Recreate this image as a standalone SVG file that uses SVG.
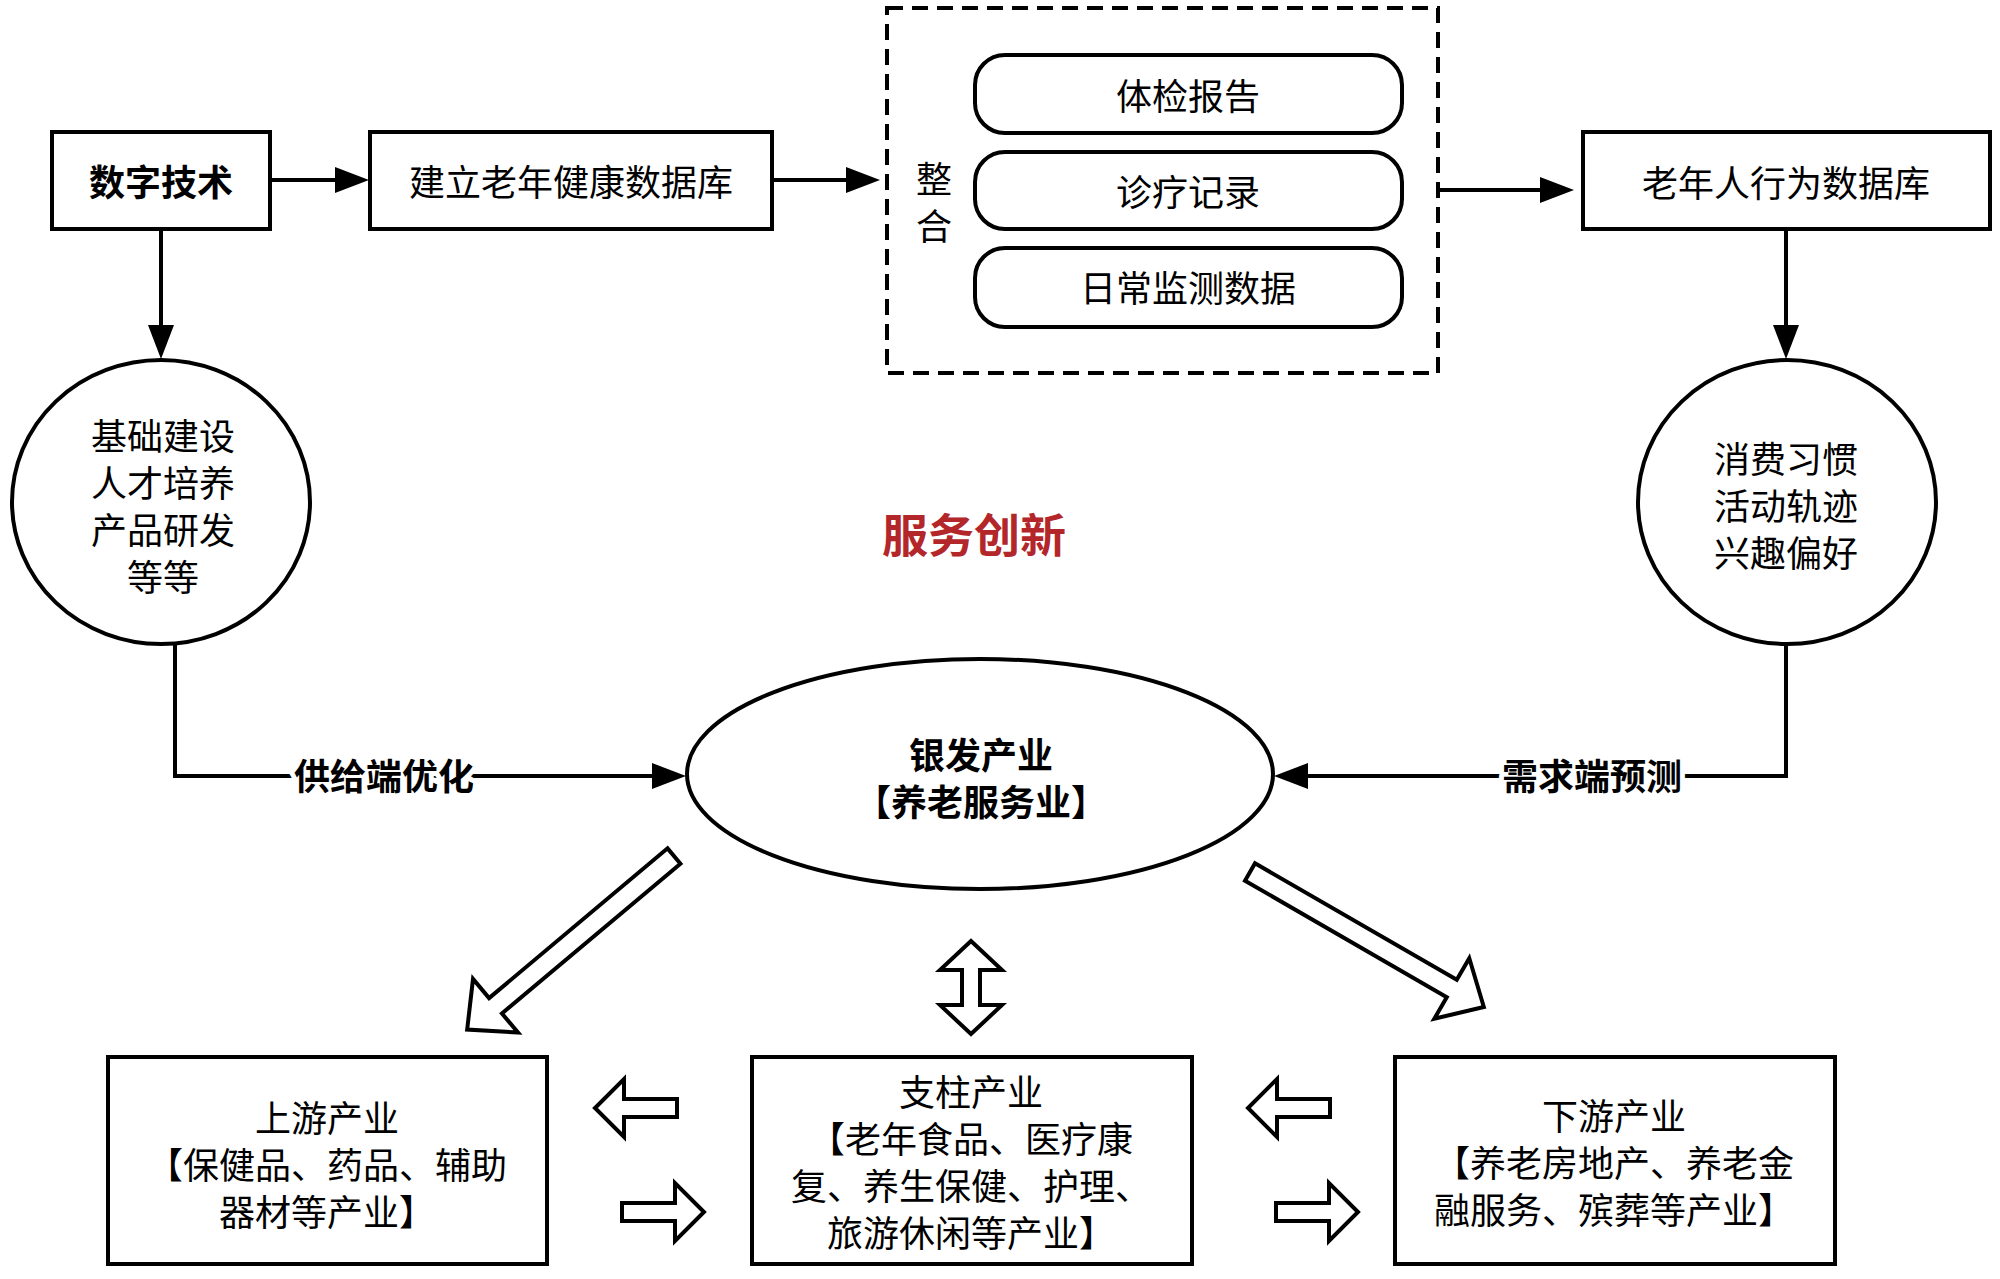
<svg xmlns="http://www.w3.org/2000/svg" width="2000" height="1279" viewBox="0 0 2000 1279">
<style>
text{font-family:"Noto Sans CJK SC","Noto Sans",sans-serif;font-size:36px;fill:#000;text-anchor:middle}
.b{font-weight:bold}
.box{fill:#fff;stroke:#000;stroke-width:4}
.con{fill:none;stroke:#000;stroke-width:4}
.blk{fill:#fff;stroke:#000;stroke-width:4;stroke-linejoin:miter}
.lbl{font-weight:bold;stroke:#fff;stroke-width:10;paint-order:stroke;stroke-linejoin:round}
</style>
<defs>
<marker id="ah" markerUnits="userSpaceOnUse" markerWidth="36" markerHeight="28" refX="0" refY="14" orient="auto">
<path d="M0,1 L34,14 L0,27 Z" fill="#000"/>
</marker>
<path id="diag" d="M0,-10 L233,-10 L233,-35 L270,0 L233,35 L233,10 L0,10 Z"/>
<path id="small" d="M0,-9 H53 V-29 L82,0 L53,29 V9 H0 Z"/>
</defs>
<rect width="2000" height="1279" fill="#fff"/>

<g id="connectors">
<path class="con" d="M271,180 H335" marker-end="url(#ah)"/>
<path class="con" d="M772,180 H846" marker-end="url(#ah)"/>
<path class="con" d="M1438,190 H1540" marker-end="url(#ah)"/>
<path class="con" d="M161,229 V325" marker-end="url(#ah)"/>
<path class="con" d="M1786,229 V325" marker-end="url(#ah)"/>
<path class="con" d="M175,643 V776 H652" marker-end="url(#ah)"/>
<path class="con" d="M1786,643 V776 H1308" marker-end="url(#ah)"/>
<text class="lbl" x="384" y="790">供给端优化</text>
<text class="lbl" x="1592" y="790">需求端预测</text>
<use href="#diag" class="blk" transform="translate(674,856) rotate(140)"/>
<use href="#diag" class="blk" transform="translate(1250,872) rotate(30)"/>
<path class="blk" d="M971,941 L1002,970 L980,970 L980,1005 L1002,1005 L971,1034 L940,1005 L962,1005 L962,970 L940,970 Z"/>
<use href="#small" class="blk" transform="translate(677,1108) rotate(180)"/>
<use href="#small" class="blk" transform="translate(622,1212)"/>
<use href="#small" class="blk" transform="translate(1330,1108) rotate(180)"/>
<use href="#small" class="blk" transform="translate(1276,1212)"/>
</g>

<g id="n-digital">
<rect class="box" x="52" y="132" width="218" height="97"/>
<text class="b" x="161" y="196">数字技术</text>
</g>
<g id="n-healthdb">
<rect class="box" x="370" y="132" width="402" height="97"/>
<text x="571" y="196">建立老年健康数据库</text>
</g>
<g id="n-integrate">
<rect x="887" y="8" width="551" height="365" fill="none" stroke="#000" stroke-width="4" stroke-dasharray="16 9"/>
<text x="934" y="193">整</text>
<text x="934" y="240">合</text>
</g>
<g id="n-report">
<rect class="box" x="975" y="55" width="427" height="78" rx="30" ry="30"/>
<text x="1188" y="110">体检报告</text>
</g>
<g id="n-record">
<rect class="box" x="975" y="152" width="427" height="77" rx="30" ry="30"/>
<text x="1188" y="206">诊疗记录</text>
</g>
<g id="n-monitor">
<rect class="box" x="975" y="248" width="427" height="79" rx="30" ry="30"/>
<text x="1188" y="302">日常监测数据</text>
</g>
<g id="n-behaviordb">
<rect class="box" x="1583" y="132" width="407" height="97"/>
<text x="1786" y="197">老年人行为数据库</text>
</g>
<g id="n-supply">
<ellipse class="box" cx="161" cy="502" rx="149" ry="142"/>
<text x="163" y="450">基础建设</text>
<text x="163" y="497">人才培养</text>
<text x="163" y="544">产品研发</text>
<text x="163" y="591">等等</text>
</g>
<g id="n-demand">
<ellipse class="box" cx="1787" cy="502" rx="149" ry="142"/>
<text x="1786" y="473">消费习惯</text>
<text x="1786" y="520">活动轨迹</text>
<text x="1786" y="567">兴趣偏好</text>
</g>
<g id="n-innovation">
<text class="b" x="974" y="552" style="font-size:46px;fill:#B3262A">服务创新</text>
</g>
<g id="n-silver">
<ellipse class="box" cx="980" cy="774" rx="293" ry="115"/>
<text class="b" x="981" y="769">银发产业</text>
<text class="b" x="981" y="816">【养老服务业】</text>
</g>
<g id="n-upstream">
<rect class="box" x="108" y="1057" width="439" height="207"/>
<text x="327" y="1132">上游产业</text>
<text x="327" y="1179">【保健品、药品、辅助</text>
<text x="327" y="1226">器材等产业】</text>
</g>
<g id="n-pillar">
<rect class="box" x="752" y="1057" width="440" height="207"/>
<text x="971" y="1106">支柱产业</text>
<text x="971" y="1153">【老年食品、医疗康</text>
<text x="971" y="1200">复、养生保健、护理、</text>
<text x="971" y="1247">旅游休闲等产业】</text>
</g>
<g id="n-downstream">
<rect class="box" x="1395" y="1057" width="440" height="207"/>
<text x="1614" y="1130">下游产业</text>
<text x="1614" y="1177">【养老房地产、养老金</text>
<text x="1614" y="1224">融服务、殡葬等产业】</text>
</g>
</svg>
